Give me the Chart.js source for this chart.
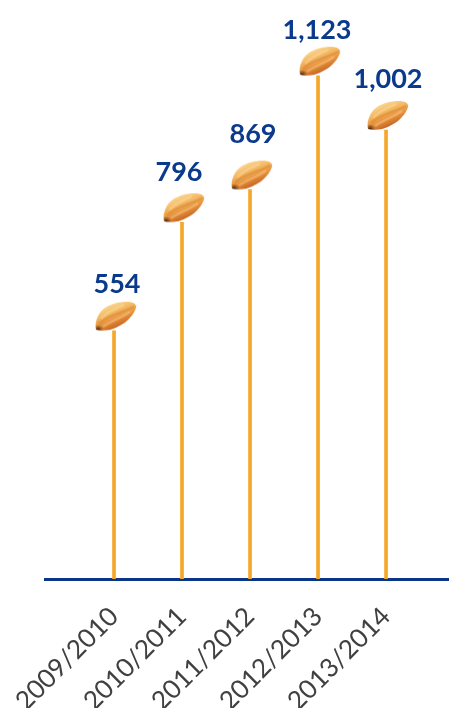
<!DOCTYPE html>
<html>
<head>
<meta charset="utf-8">
<script src="https://cdn.jsdelivr.net/npm/chart.js@4"></script>
<style>
  html, body { margin: 0; padding: 0; background: #fff; }
  #wrap { width: 449px; height: 708px; position: relative; overflow: hidden; }
</style>
</head>
<body>
<div id="wrap"><canvas id="myChart"></canvas></div>
<script>
const seasons = ['2009/2010', '2010/2011', '2011/2012', '2012/2013', '2013/2014'];
const tonnes = [554, 796, 869, 1123, 1002];

// the labels are hand placed in the original, not quite centred over the stems
const labelNudgeX = [3, -3, 3, -1, 2];
const labelNudgeY = [46, 50, 55, 45, 51];

// Grain marker. The point is centred on the canvas, so the grain sits in the upper half
function makeGrain() {
  const c = document.createElement('canvas');
  c.width = 60;
  c.height = 68;
  const g = c.getContext('2d');
  g.translate(30, 34);

  const outline = () => {
    g.beginPath();
    g.moveTo(-18, -1);
    g.bezierCurveTo(-20, -10, -15, -19, -9, -23);
    g.bezierCurveTo(-3, -27, 5, -29, 13, -29);
    g.bezierCurveTo(18, -29, 23, -27, 22, -23);
    g.bezierCurveTo(20, -17, 15, -11, 9, -7);
    g.bezierCurveTo(4, -4, 0, -2, -4, -1);
    g.bezierCurveTo(-9, 0, -14, 0, -18, -1);
    g.closePath();
  };

  const body = g.createLinearGradient(-4, -28, 7, -1);
  body.addColorStop(0, '#fbdc9c');
  body.addColorStop(0.3, '#f5bd68');
  body.addColorStop(0.6, '#e8923a');
  body.addColorStop(1, '#b4501a');
  outline();
  g.fillStyle = body;
  g.fill();

  // crease along the grain
  g.save();
  outline();
  g.clip();
  g.strokeStyle = 'rgba(205,120,45,0.35)';
  g.lineWidth = 2.5;
  g.beginPath();
  g.moveTo(-15, -7);
  g.bezierCurveTo(-6, -16, 6, -17, 20, -24);
  g.stroke();
  g.strokeStyle = 'rgba(255,236,190,0.3)';
  g.lineWidth = 2.5;
  g.beginPath();
  g.moveTo(-13, -12);
  g.bezierCurveTo(-6, -20, 2, -22, 10, -26);
  g.stroke();
  g.beginPath();
  g.moveTo(-11, -4);
  g.bezierCurveTo(-3, -10, 6, -12, 16, -19);
  g.stroke();
  g.restore();

  // dark tip at the stem end
  const tip = g.createRadialGradient(-16, -1, 0, -16, -1, 5);
  tip.addColorStop(0, 'rgba(60,35,20,0.95)');
  tip.addColorStop(1, 'rgba(60,35,20,0)');
  g.save();
  outline();
  g.clip();
  g.fillStyle = tip;
  g.fillRect(-24, -7, 14, 10);
  g.restore();
  return c;
}

// Value labels above the grains
const valueLabels = {
  id: 'valueLabels',
  afterDatasetsDraw(chart) {
    const ctx = chart.ctx;
    const pts = chart.getDatasetMeta(1).data;
    ctx.save();
    ctx.font = 'bold 27px Lato';
    ctx.fillStyle = '#0b3a8c';
    ctx.textAlign = 'center';
    ctx.textBaseline = 'middle';
    pts.forEach((pt, i) => {
      ctx.fillText(tonnes[i].toLocaleString('en-US'), pt.x + labelNudgeX[i], pt.y - labelNudgeY[i]);
    });
    ctx.restore();
  }
};

const points = tonnes.map((v, i) => ({ x: i, y: v }));

new Chart(document.getElementById('myChart'), {
  data: {
    datasets: [
      {
        type: 'bar',
        data: points,
        backgroundColor: '#f5a828',
        barThickness: 3,
        order: 2
      },
      {
        type: 'line',
        data: points,
        showLine: false,
        pointStyle: makeGrain(),
        order: 1
      }
    ]
  },
  options: {
    responsive: true,
    maintainAspectRatio: false,
    animation: false,
    layout: { autoPadding: false, padding: { left: 45, right: 0, top: 0, bottom: 0 } },
    plugins: { legend: { display: false }, tooltip: { enabled: false } },
    scales: {
      x: {
        type: 'linear',
        offset: false,
        min: -1.015,
        max: 4.926,
        afterBuildTicks: (scale) => { scale.ticks = seasons.map((s, i) => ({ value: i })); },
        afterFit: (scale) => {
          scale.height = 129;
          // the long rotated labels should not push the plot area in
          scale.paddingLeft = 0;
          scale.paddingRight = 0;
        },
        grid: { display: false, drawTicks: false },
        border: { display: true, color: '#0b3586', width: 3 },
        ticks: {
          autoSkip: false,
          minRotation: 45,
          maxRotation: 45,
          padding: 22,
          color: '#404040',
          font: { family: 'Lato', size: 26 },
          callback: (value) => seasons[value]
        }
      },
      y: {
        display: false,
        min: 0,
        max: 1292
      }
    }
  },
  plugins: [valueLabels]
});
</script>
</body>
</html>
